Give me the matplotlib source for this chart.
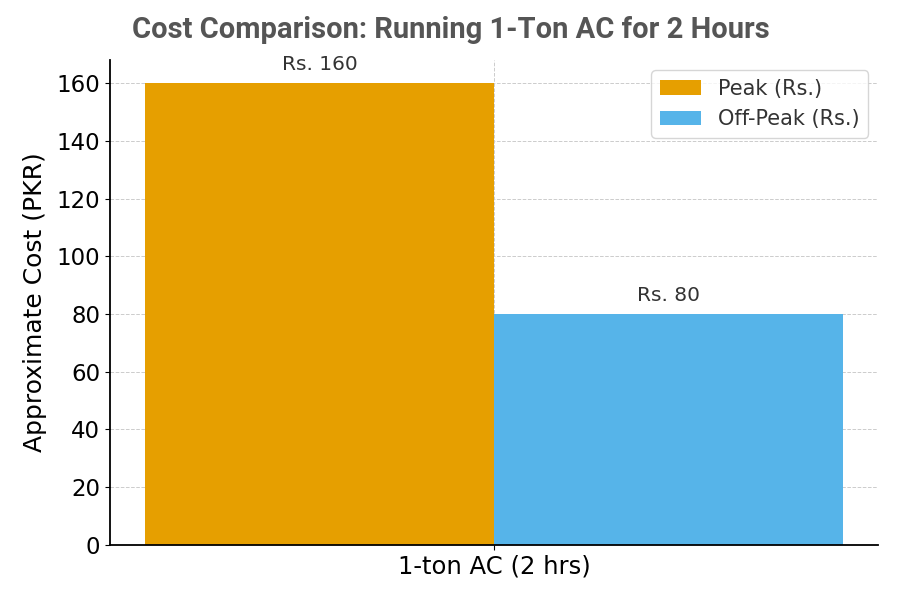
import matplotlib
matplotlib.use("Agg")
import matplotlib.pyplot as plt
import numpy as np

categories = ["1-ton AC (2 hrs)"]
series_names = ["Peak (Rs.)", "Off-Peak (Rs.)"]
peak = [160]
offpeak = [80]
colors = ["#E69F00", "#56B4E9"]

plt.rcParams['font.family'] = ['DejaVu Sans']
fig, ax = plt.subplots(figsize=(9, 6), dpi=100)
fig.subplots_adjust(left=0.122, right=0.976, top=0.9, bottom=0.092)

x = np.arange(len(categories))
w = 0.35
b1 = ax.bar(x - w/2, peak, w, color=colors[0], label=series_names[0], zorder=2)
b2 = ax.bar(x + w/2, offpeak, w, color=colors[1], label=series_names[1], zorder=2)

for bars, vals in ((b1, peak), (b2, offpeak)):
    for r, v in zip(bars, vals):
        ax.annotate(f"Rs. {v}", (r.get_x() + r.get_width()/2, v), xytext=(0, 6.5),
                    textcoords="offset points", ha="center", va="bottom",
                    fontsize=14.5, color="#333333")

ax.set_xticks(x)
ax.set_xticklabels(categories, fontsize=17.5)
ax.tick_params(axis='y', labelsize=16.5)
ax.set_ylabel("Approximate Cost (PKR)", fontsize=18, labelpad=7)
ax.set_ylim(0, 168)
ax.set_yticks(range(0, 161, 20))
ax.grid(True, linestyle='--', color='#cccccc', linewidth=0.7, zorder=0)
ax.set_axisbelow(True)
ax.spines['top'].set_visible(False)
ax.spines['right'].set_visible(False)
ax.spines['left'].set_linewidth(1.3)
ax.spines['bottom'].set_linewidth(1.3)
fig.text(0.501, 0.95, "Cost Comparison: Running 1-Ton AC for 2 Hours", fontsize=21,
         fontweight='bold', color='#555555', family='Roboto', ha='center', va='center')
ax.legend(fontsize=15, loc='upper right', labelcolor='#333333')

fig.savefig("out.png", dpi=100)
